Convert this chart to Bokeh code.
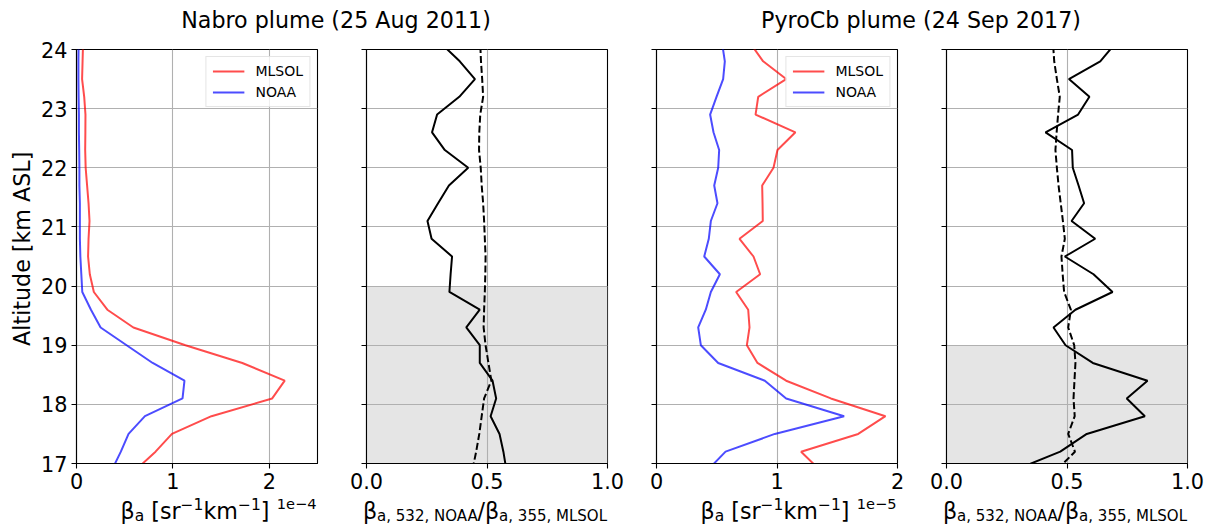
import math
from bokeh.plotting import figure
from bokeh.models import Range1d, Label, Legend, LegendItem, BoxAnnotation, NumeralTickFormatter
from bokeh.layouts import column, row
from bokeh.embed import file_html
from bokeh.resources import INLINE

# ---------------- data ----------------
altitude = [16.9, 17.2, 17.5, 17.8, 18.1, 18.4, 18.7, 19.0, 19.3, 19.6, 19.9, 20.2, 20.5,
            20.8, 21.1, 21.4, 21.7, 22.0, 22.3, 22.6, 22.9, 23.2, 23.5, 23.8, 24.1]

# Nabro, beta_a in units of 1e-4 sr^-1 km^-1
nabro_mlsol = [0.62, 0.82, 0.99, 1.40, 2.03, 2.16, 1.72, 1.13, 0.59, 0.32, 0.18, 0.138, 0.12,
               0.125, 0.135, 0.125, 0.11, 0.095, 0.09, 0.092, 0.093, 0.08, 0.058, 0.063, 0.068]
nabro_noaa = [0.37, 0.46, 0.54, 0.71, 1.10, 1.12, 0.79, 0.52, 0.25, 0.15, 0.06, 0.05, 0.04,
              0.035, 0.035, 0.035, 0.03, 0.03, 0.028, 0.025, 0.025, 0.022, 0.02, 0.02, 0.022]
nabro_ratio = [0.58, 0.568, 0.552, 0.515, 0.538, 0.523, 0.470, 0.470, 0.414, 0.470, 0.344, 0.349, 0.355,
               0.270, 0.253, 0.297, 0.342, 0.422, 0.325, 0.272, 0.293, 0.385, 0.450, 0.387, 0.31]
nabro_ratio_ref = [0.44, 0.455, 0.468, 0.478, 0.488, 0.518, 0.506, 0.494, 0.486, 0.488, 0.491, 0.493, 0.494,
                   0.491, 0.488, 0.484, 0.478, 0.474, 0.467, 0.468, 0.472, 0.484, 0.48, 0.475, 0.472]

# PyroCb, beta_a in units of 1e-5 sr^-1 km^-1
pyro_mlsol = [1.35, 1.20, 1.674, 1.90, 1.447, 1.076, 0.838, 0.750, 0.772, 0.761, 0.661, 0.860, 0.805,
              0.689, 0.882, 0.880, 0.877, 0.971, 1.004, 1.153, 0.822, 0.844, 1.076, 0.885, 0.78]
pyro_noaa = [0.43, 0.573, 0.982, 1.557, 1.076, 0.899, 0.512, 0.368, 0.346, 0.409, 0.451, 0.526, 0.396,
             0.434, 0.451, 0.506, 0.479, 0.512, 0.520, 0.473, 0.445, 0.498, 0.553, 0.567, 0.545]
pyro_ratio = [0.29, 0.472, 0.582, 0.823, 0.748, 0.834, 0.607, 0.494, 0.444, 0.535, 0.689, 0.610, 0.491,
              0.617, 0.519, 0.571, 0.548, 0.524, 0.521, 0.411, 0.546, 0.593, 0.508, 0.638, 0.70]
pyro_ratio_ref = [0.46, 0.533, 0.505, 0.532, 0.527, 0.531, 0.535, 0.530, 0.505, 0.516, 0.488, 0.482, 0.477,
                  0.491, 0.483, 0.474, 0.465, 0.458, 0.452, 0.457, 0.463, 0.470, 0.458, 0.447, 0.442]

nabro_shade_top = 20
pyro_shade_top = 19

titles = ["Nabro plume (25 Aug 2011)", "PyroCb plume (24 Sep 2017)"]
y_ticks = [17, 18, 19, 20, 21, 22, 23, 24]
beta_ticks = [0, 1, 2]
ratio_ticks = [0, 0.5, 1.0]
offset_texts = ["1e\u22124", "1e\u22125"]
y_title = "Altitude [km ASL]"

# ---------------- layout constants (page pixels, origin top-left) ----------------
FONT = "DejaVu Sans"
FW, FH = 241, 414
HDR_H = 36
TOP_B, BOT_B = 13, 30
PANEL_H = TOP_B + FH + BOT_B
YLAB_W = 38
FOOT_Y0 = HDR_H + PANEL_H
FOOT_H = 525 - FOOT_Y0
BORDERS = [(37, 20), (29, 20), (29, 20), (29, 22)]
TOTAL_W = YLAB_W + sum(l + FW + r for l, r in BORDERS)
MID = 0.346  # distance baseline -> middle of text box, in em

frame_lefts = []
_x = YLAB_W
for l, r in BORDERS:
    frame_lefts.append(_x + l)
    _x += l + FW + r
FRAME_TOP = HDR_H + TOP_B
FRAME_BOT = FRAME_TOP + FH

RED = "#ff0000"
BLUE = "#0000ff"

# DejaVu Sans advance widths (font units, 2048 per em) used to lay out composed labels
ADV = {" ": 651, ",": 651, "/": 690, "[": 799, "]": 799, "a": 1255, "k": 1186, "m": 1995,
       "r": 842, "s": 1067, "A": 1401, "L": 1141, "M": 1767, "N": 1532, "O": 1612, "S": 1300,
       "\u03b2": 1300, "\u2212": 1716}


def text_width(t, size):
    return sum(ADV.get(c, 1303) for c in t) / 2048 * size


def blank(width, height):
    f = figure(width=width, height=height, x_range=Range1d(0, width), y_range=Range1d(0, height),
               output_backend="svg", toolbar_location=None, min_border=0,
               x_axis_location=None, y_axis_location=None)
    f.grid.visible = False
    f.outline_line_color = None
    f.background_fill_color = "white"
    f.border_fill_color = "white"
    return f


def put(f, y0, page_x, baseline, text, size, align="left", angle=0.0):
    """Place text on a blank figure whose top is at page y = y0."""
    h = f.height
    if angle == 0.0:
        sx, sy = page_x, baseline - MID * size
    else:  # rotated 90 deg: baseline is a vertical line at page_x
        sx, sy = page_x - MID * size, baseline
    f.add_layout(Label(x=sx, y=h - (sy - y0), text=text, text_font=FONT, text_font_size=f"{size}px",
                       text_align=align, text_baseline="middle", angle=angle, text_color="black"))


def make_panel(xmax, xticks, bl, br, ylabels, fmt=None):
    p = figure(frame_width=FW, frame_height=FH, x_range=Range1d(0, xmax), y_range=Range1d(17, 24),
               output_backend="svg", toolbar_location=None,
               min_border_left=bl, min_border_right=br, min_border_top=TOP_B, min_border_bottom=BOT_B)
    p.outline_line_color = "black"
    p.outline_line_width = 1.1
    p.outline_line_alpha = 1
    p.background_fill_color = "white"
    p.border_fill_color = "white"
    p.xaxis.ticker = xticks
    p.yaxis.ticker = y_ticks
    p.xgrid.ticker = p.xaxis[0].ticker
    p.ygrid.ticker = p.yaxis[0].ticker
    if fmt is not None:
        p.xaxis.formatter = fmt
    for ax in (p.xaxis[0], p.yaxis[0]):
        ax.axis_line_color = "black"
        ax.axis_line_width = 1.1
        ax.major_tick_line_color = "black"
        ax.major_tick_line_width = 1.1
        ax.major_tick_out = 5
        ax.major_tick_in = 0
        ax.minor_tick_line_color = None
        ax.major_label_text_font = FONT
        ax.major_label_text_font_size = "20.8px"
        ax.major_label_text_color = "black"
    p.xaxis.major_label_standoff = 4
    p.yaxis.major_label_standoff = 4
    if not ylabels:
        p.yaxis.major_label_overrides = {t: "" for t in y_ticks}
        p.yaxis.major_label_standoff = 0
    p.grid.grid_line_color = "#b0b0b0"
    p.grid.grid_line_width = 1.1
    return p


def add_legend(p, r_mlsol, r_noaa):
    lg = Legend(items=[LegendItem(label="MLSOL", renderers=[r_mlsol]),
                       LegendItem(label="NOAA", renderers=[r_noaa])],
                location="top_right")
    lg.label_text_font = FONT
    lg.label_text_font_size = "14px"
    lg.label_text_color = "black"
    lg.glyph_width = 32
    lg.glyph_height = 16
    lg.label_height = 16
    lg.label_standoff = 11
    lg.spacing = 5
    lg.padding = 6
    lg.margin = 7
    lg.border_line_color = "#cccccc"
    lg.border_line_width = 1.1
    lg.background_fill_alpha = 0.8
    p.add_layout(lg)


# panel 1: Nabro beta
p1 = make_panel(2.5, beta_ticks, *BORDERS[0], True)
r1 = p1.line(nabro_mlsol, altitude, line_color=RED, line_alpha=0.7, line_width=2)
r2 = p1.line(nabro_noaa, altitude, line_color=BLUE, line_alpha=0.7, line_width=2)
add_legend(p1, r1, r2)

# panel 2: Nabro ratio
p2 = make_panel(1.0, ratio_ticks, *BORDERS[1], False, NumeralTickFormatter(format="0.0"))
p2.add_layout(BoxAnnotation(top=nabro_shade_top, fill_color="#e5e5e5", fill_alpha=1,
                            line_color=None, level="image"))
p2.line(nabro_ratio, altitude, line_color="black", line_width=2)
p2.line(nabro_ratio_ref, altitude, line_color="black", line_width=2, line_dash="7 3")

# panel 3: PyroCb beta
p3 = make_panel(2.0, beta_ticks, *BORDERS[2], False)
r3 = p3.line(pyro_mlsol, altitude, line_color=RED, line_alpha=0.7, line_width=2)
r4 = p3.line(pyro_noaa, altitude, line_color=BLUE, line_alpha=0.7, line_width=2)
add_legend(p3, r3, r4)

# panel 4: PyroCb ratio
p4 = make_panel(1.0, ratio_ticks, *BORDERS[3], False, NumeralTickFormatter(format="0.0"))
p4.add_layout(BoxAnnotation(top=pyro_shade_top, fill_color="#e5e5e5", fill_alpha=1,
                            line_color=None, level="image"))
p4.line(pyro_ratio, altitude, line_color="black", line_width=2)
p4.line(pyro_ratio_ref, altitude, line_color="black", line_width=2, line_dash="7 3")

# header with the two titles
hdr = blank(TOTAL_W, HDR_H)
L1, L2, L3, L4 = frame_lefts
title_centers = [(L1 + L2 + FW) / 2 - 5, (L3 + L4 + FW) / 2]
for t, cx in zip(titles, title_centers):
    put(hdr, 0, cx, 26.7, t, 22.2, align="center")

# y-axis title strip
ylab = blank(YLAB_W, PANEL_H)
put(ylab, HDR_H, 28.8, (FRAME_TOP + FRAME_BOT) / 2, y_title, 22.2, align="center", angle=math.pi / 2)

# footer with the composed x-axis titles
foot = blank(TOTAL_W, FOOT_H)
MAIN = 22.2
BASE = {"main": 518.0, "sub": 520.5, "sup": 509.0}


def composed_label(center_x, pieces, shift=0.0):
    widths = [text_width(t, s) for t, s, _ in pieces]
    x = center_x - sum(widths) / 2 + shift
    for (t, s, kind), w in zip(pieces, widths):
        stripped = t.lstrip(" ")
        lead = text_width(t[:len(t) - len(stripped)], s)
        if stripped:
            put(foot, FOOT_Y0, x + lead, BASE[kind], stripped, s)
        x += w


beta_pieces = [("\u03b2", MAIN, "main"), ("a", 15.5, "sub"), (" [sr", MAIN, "main"),
               ("\u22121", 15.5, "sup"), ("km", MAIN, "main"), ("\u22121", 15.5, "sup"),
               ("]", MAIN, "main")]
ratio_pieces = [("\u03b2", MAIN, "main"), ("a, 532, NOAA", 15, "sub"), ("/", MAIN, "main"),
                ("\u03b2", MAIN, "main"), ("a, 355, MLSOL", 15, "sub")]

for i, fl in enumerate(frame_lefts):
    cx = fl + FW / 2
    if i % 2 == 0:
        composed_label(cx, beta_pieces, shift=-1)
        put(foot, FOOT_Y0, fl + FW, 508.3, offset_texts[i // 2], 14.6, align="right")
    else:
        composed_label(cx, ratio_pieces, shift=-1)

layout = column(hdr, row(ylab, p1, p2, p3, p4), foot)
open("out.html", "w").write(file_html(layout, INLINE))
